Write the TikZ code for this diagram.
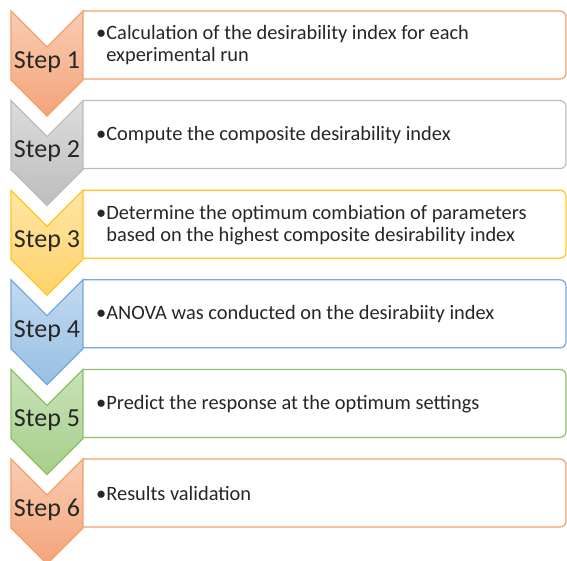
\documentclass[tikz,border=0pt]{standalone}
\usepackage{fontspec}
\setmainfont{Carlito}

\definecolor{orTop}{HTML}{F9CDB2}
\definecolor{orBot}{HTML}{F3A47A}
\definecolor{orLine}{HTML}{F2A06B}
\definecolor{grTop}{HTML}{DCDCDC}
\definecolor{grBot}{HTML}{BDBDBD}
\definecolor{grLine}{HTML}{BCBCBC}
\definecolor{ylTop}{HTML}{FFE6A6}
\definecolor{ylBot}{HTML}{FFD268}
\definecolor{ylLine}{HTML}{FFC61E}
\definecolor{blTop}{HTML}{C2DAF0}
\definecolor{blBot}{HTML}{98BFE3}
\definecolor{blLine}{HTML}{74A9DA}
\definecolor{gnTop}{HTML}{C8E2B8}
\definecolor{gnBot}{HTML}{A6CF8A}
\definecolor{gnLine}{HTML}{8DC06A}
\definecolor{txtGray}{HTML}{262626}

\tikzset{
  steplabel/.style={font=\fontsize{26}{30}\selectfont, text=txtGray, inner sep=0pt},
  itemtext/.style={font=\fontsize{20.4}{22}\selectfont, text=txtGray, align=left, anchor=west, inner sep=0pt},
  chevron/.style={line width=1.2pt, line join=miter},
  boxline/.style={line width=1.2pt, rounded corners=6pt},
}

\begin{document}
\begin{tikzpicture}[x=1pt,y=-1pt]
  \useasboundingbox (0,0) rectangle (567,561);
  \foreach \i/\ct/\cb/\cl/\txt in {
      1/orTop/orBot/orLine/{•Calculation of the desirability index for each\\\hphantom{•}experimental run},
      2/grTop/grBot/grLine/{•Compute the composite desirability index},
      3/ylTop/ylBot/ylLine/{•Determine the optimum combiation of parameters\\\hphantom{•}based on the highest composite desirability index},
      4/blTop/blBot/blLine/{•ANOVA was conducted on the desirabiity index},
      5/gnTop/gnBot/gnLine/{•Predict the response at the optimum settings},
      6/orTop/orBot/orLine/{•Results validation}}{
    \pgfmathsetmacro\ytop{11+89.6*(\i-1)}
    % text box, open on the left
    \draw[boxline, draw=\cl] (83,\ytop) -- (566,\ytop) -- (566,\ytop+68) -- (83,\ytop+68);
    % step chevron
    \shadedraw[chevron, top color=\ct, bottom color=\cb, draw=\cl]
      (11,\ytop) -- (47,\ytop+36) -- (83,\ytop) -- (83,\ytop+69)
      -- (47,\ytop+105) -- (11,\ytop+69) -- cycle;
    \node[steplabel] (step\i) at (47,\ytop+51) {Step \i};
    \node[itemtext] (item\i) at (96,\ytop+34.5) {\txt};
  }
\end{tikzpicture}
\end{document}
